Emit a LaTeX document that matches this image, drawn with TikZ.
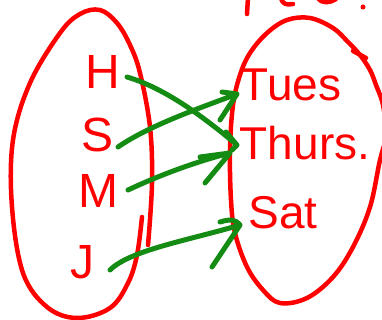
\documentclass[tikz,border=0pt]{standalone}
\usepackage{fontspec}
\setmainfont{Liberation Sans}
\definecolor{pen}{RGB}{255,0,0}
\definecolor{gpen}{RGB}{20,140,20}
\begin{document}
\begin{tikzpicture}[x=1pt,y=-1pt,
 redline/.style={draw=pen,line width=4.5pt,line cap=round,line join=round},
 garrow/.style={draw=gpen,line width=5pt,line cap=round,line join=round},
 lbl/.style={text=pen,font=\fontsize{48}{48}\selectfont,inner sep=0pt},
 rlbl/.style={text=pen,font=\fontsize{46}{46}\selectfont,inner sep=0pt}]
\useasboundingbox (0,0) rectangle (382,320);
\clip (0,0) rectangle (382,320);
% left set
\draw[redline] plot[smooth,tension=0.6] coordinates {(142,217) (137,255) (128,283) (110,308) (77,318) (47,307) (23,273) (12,207) (13,140) (30,83) (60,33) (80,14) (100,10) (117,23) (130,45) (140,73) (150,127) (152,183) (148,245)};
% right set
\draw[redline] plot[smooth,tension=0.6] coordinates {(388,140) (383,105) (376,85) (370,70) (360,55) (348,42) (333,28) (310,18) (287,20) (267,33) (250,53) (240,75) (233,105) (230,150) (231,200) (235,233) (247,267) (263,290) (280,303) (307,298) (333,277) (353,247) (370,207) (380,160) (386,140)};
\draw[redline] (353,51) -- (366,58);
% cut-off text at top
\draw[redline] (248,-3) -- (247,14);
\draw[redline] (281,-3) .. controls (282,5) and (287,5) .. (293,4);
\draw[redline] (318,-2) .. controls (322,4) and (330,3) .. (336,-1);
\fill[pen] (363,7) circle (2.5);
% labels
\node[lbl] (H) at (103,72) {H};
\node[lbl] (S) at (98,135) {S};
\node[lbl] (M) at (98,191) {M};
\node[lbl] (J) at (82,262) {J};
\node[rlbl] (Tues) at (291,85) {Tues};
\node[rlbl] (Thurs) at (305,143) {Thurs.};
\node[rlbl] (Sat) at (283,213) {Sat};
% arrows
\draw[garrow] ([shift={(24,5)}]H.center) .. controls (165,88) and (205,118) .. ([shift={(-68,2)}]Thurs.center) coordinate (t1) -- ++(-11,-13) (t1) -- ++(-5,5);
\draw[garrow] ([shift={(20,12)}]S.center) .. controls (150,125) and (200,108) .. ([shift={(-54,9)}]Tues.center) coordinate (t2) -- ++(-15,-2) (t2) -- ++(-17,26);
\draw[garrow] ([shift={(30,-1)}]M.center) .. controls (160,175) and (195,162) .. ([shift={(-75,10)}]Thurs.center) coordinate (t3) -- ++(-30,4) (t3) -- ++(-25,30);
\draw[garrow] ([shift={(28,8)}]J.center) .. controls (130,250) and (190,240) .. ([shift={(-43,12)}]Sat.center) coordinate (t4) .. controls ++(-5,-6) and ++(10,-3) .. ++(-20,-3) (t4) -- ++(-28,42);
\end{tikzpicture}
\end{document}
